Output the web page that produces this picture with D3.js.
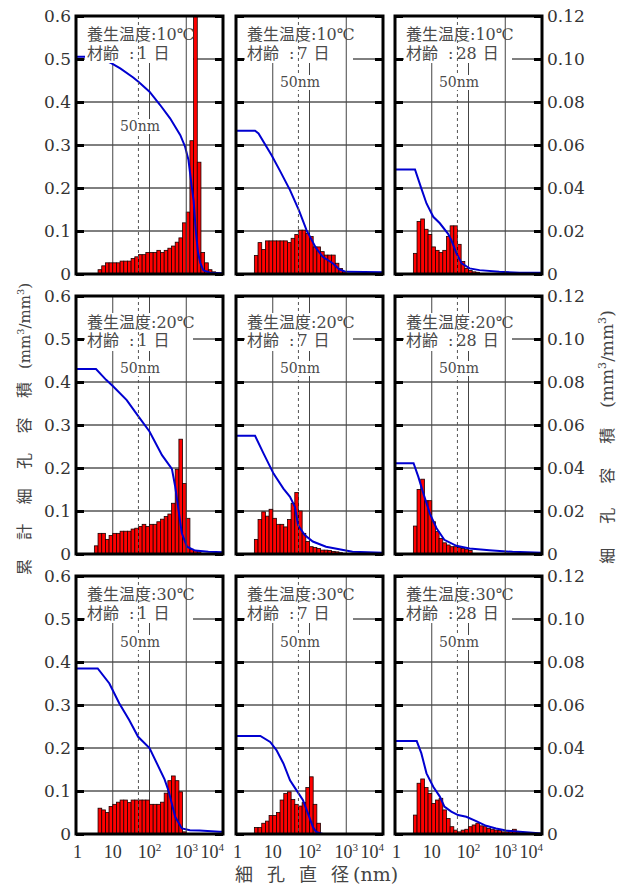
<!DOCTYPE html>
<html lang="ja">
<head>
<meta charset="utf-8">
<title>細孔径分布</title>
<script src="https://d3js.org/d3.v7.min.js"></script>
<style>
  body { margin: 0; background: #fff; }
  svg { display: block; }
</style>
</head>
<body>
<svg id="chart" width="625" height="888"></svg>
<script>
// ---- data ----
const temps = ["10℃", "20℃", "30℃"];   // rows
const ages = ["1", "7", "28"];           // columns, 材齢 (日)
const xTicks = [1, 10, 100, 1000, 10000];
const xTickExp = [null, null, 2, 3, 4];
const leftTicks = [0, 0.1, 0.2, 0.3, 0.4, 0.5, 0.6];
const rightTicks = [0, 0.02, 0.04, 0.06, 0.08, 0.10, 0.12];
const binWidthLog = 0.1;   // bars are 1/10 decade wide

// log10 of the lower edge of the first bar
const firstBinLog = [[0.6, 0.5, 0.5], [0.5, 0.5, 0.5], [0.6, 0.5, 0.5]];

// pore volume per bin (right axis, mm3/mm3)
const bars10d1 = [0.002, 0.0038, 0.0052, 0.0052, 0.0052, 0.0052, 0.006, 0.006, 0.006, 0.0072, 0.008, 0.009, 0.009, 0.010, 0.010, 0.010, 0.011, 0.010, 0.011, 0.012, 0.013, 0.0148, 0.0168, 0.0238, 0.0288, 0.062, 0.13, 0.052, 0.010, 0.0052, 0.002, 0.001];
const bars10d7 = [0.0086, 0.0146, 0.0114, 0.0154, 0.0154, 0.0154, 0.0154, 0.0154, 0.0154, 0.0146, 0.0166, 0.0184, 0.0204, 0.0204, 0.0188, 0.0174, 0.0126, 0.0126, 0.0104, 0.0088, 0.0088, 0.0088, 0.005, 0.0026, 0.001];
const bars10d28 = [0.0096, 0.0244, 0.0256, 0.0208, 0.0184, 0.0126, 0.011, 0.010, 0.011, 0.0174, 0.0224, 0.0224, 0.0138, 0.0058, 0.0026, 0.0016, 0.001, 0.0008];
const bars20d1 = [0.0038, 0.0096, 0.0096, 0.0068, 0.0086, 0.0096, 0.0096, 0.0106, 0.0106, 0.0106, 0.0116, 0.012, 0.0128, 0.0138, 0.0128, 0.0138, 0.0138, 0.015, 0.0162, 0.0174, 0.0186, 0.0236, 0.0394, 0.0534, 0.0328, 0.0166, 0.0022, 0.0016, 0.001];
const bars20d7 = [0.0068, 0.016, 0.0196, 0.0176, 0.0208, 0.0166, 0.0138, 0.0138, 0.0126, 0.016, 0.0236, 0.0286, 0.020, 0.0096, 0.0058, 0.0034, 0.003, 0.0026, 0.0018, 0.0018, 0.0016, 0.0012, 0.001, 0.0006];
const bars20d28 = [0.013, 0.030, 0.0348, 0.0248, 0.0248, 0.015, 0.0104, 0.0072, 0.0052, 0.0042, 0.0034, 0.0034, 0.003, 0.0026, 0.0022, 0.0016];
const bars30d1 = [0.012, 0.0112, 0.010, 0.0128, 0.0138, 0.0148, 0.0158, 0.0158, 0.0146, 0.0158, 0.0158, 0.0158, 0.0158, 0.0158, 0.0138, 0.0138, 0.0138, 0.0148, 0.019, 0.0248, 0.027, 0.0248, 0.0196, 0.001];
const bars30d7 = [0.003, 0.003, 0.005, 0.006, 0.0086, 0.0086, 0.010, 0.0158, 0.0188, 0.0196, 0.016, 0.0138, 0.013, 0.0146, 0.0216, 0.0266, 0.0138, 0.005];
const bars30d28 = [0.0088, 0.0236, 0.0256, 0.0216, 0.0188, 0.0142, 0.0158, 0.0166, 0.0112, 0.0072, 0.0034, 0.0018, 0.001, 0.0018, 0.0022, 0.0034, 0.0042, 0.005, 0.0038, 0.0034, 0.0026, 0.0022, 0.0018, 0.0016, 0.001, 0.001, 0.0016, 0.0022, 0.001];

// cumulative pore volume (left axis): [diameter nm, mm3/mm3]
const cum10d1 = [[1,0.505],[4,0.505],[9.3,0.49],[16,0.478],[36,0.457],[50,0.447],[100,0.424],[195,0.393],[363,0.362],[690,0.323],[930,0.296],[1150,0.265],[1410,0.203],[1590,0.17],[1820,0.1],[2090,0.05],[2400,0.026],[2950,0.008],[4470,0.003],[10000,0.0015]];
const cum10d7 = [[1,0.333],[3.3,0.333],[4.1,0.327],[9.3,0.276],[15.5,0.241],[29.5,0.195],[51,0.149],[83,0.102],[151,0.06],[229,0.04],[427,0.025],[646,0.011],[977,0.005],[10000,0.004]];
const cum10d28 = [[1,0.243],[3.5,0.243],[5.2,0.199],[7.2,0.164],[11,0.133],[16.6,0.118],[27.5,0.094],[34,0.079],[47,0.048],[65,0.025],[107,0.013],[200,0.009],[690,0.005],[2450,0.003],[10000,0.003]];
const cum20d1 = [[1,0.43],[3.5,0.43],[6.6,0.405],[10.5,0.389],[24,0.358],[51,0.319],[100,0.285],[219,0.23],[407,0.198],[500,0.157],[617,0.102],[759,0.048],[1050,0.017],[1740,0.008],[4000,0.005],[10000,0.004]];
const cum20d7 = [[1,0.275],[3.3,0.275],[5.6,0.234],[10.5,0.187],[19.5,0.152],[29.5,0.133],[40,0.11],[49,0.067],[74,0.044],[123,0.029],[282,0.017],[646,0.011],[1480,0.005],[10000,0.003]];
const cum20d28 = [[1,0.211],[3.2,0.211],[4.3,0.18],[5.9,0.141],[8.9,0.094],[13.5,0.06],[22,0.033],[47,0.019],[107,0.013],[370,0.009],[1580,0.005],[10000,0.003]];
const cum30d1 = [[1,0.385],[3.9,0.385],[8.1,0.35],[15,0.304],[28,0.265],[49,0.226],[66,0.215],[100,0.2],[257,0.127],[331,0.1],[500,0.04],[760,0.013],[1260,0.009],[2290,0.008],[8000,0.005],[10000,0.005]];
const cum30d7 = [[1,0.228],[4.6,0.228],[8.5,0.214],[12.6,0.195],[19.5,0.164],[29.5,0.125],[44,0.102],[66,0.079],[91,0.048],[123,0.017],[151,0.005],[229,0],[10000,0]];
const cum30d28 = [[1,0.216],[3.9,0.216],[5.2,0.188],[7.2,0.141],[11,0.11],[16.6,0.087],[22,0.064],[34,0.052],[52,0.044],[87,0.04],[162,0.03],[302,0.019],[562,0.013],[1050,0.008],[2450,0.005],[10000,0.001]];

const barSets = [[bars10d1, bars10d7, bars10d28], [bars20d1, bars20d7, bars20d28], [bars30d1, bars30d7, bars30d28]];
const cumSets = [[cum10d1, cum10d7, cum10d28], [cum20d1, cum20d7, cum20d28], [cum30d1, cum30d7, cum30d28]];

// ---- layout ----
const W = 147, H = 258;
const colX = [76, 236, 395];
const rowY = [16, 296, 576];
const boxY = [[0, 47], [17, 55], [0, 47]];      // white label box, relative to panel top
const textY = [[24, 43], [32, 50], [24, 43]];   // baselines of the two label lines
const nmLabelY = [[115, 71, 71], [77, 77, 77], [71, 71, 71]];
const serif = '"DejaVu Serif", "Noto Sans CJK JP", serif';
const narrowSerif = '"Liberation Serif", serif';
const cjk = '"Noto Sans CJK JP", sans-serif';

const svg = d3.select("#chart");
const fmtL = d => d === 0 ? "0" : d3.format(".1f")(d);
const fmtR = d => d === 0 ? "0" : d3.format(".2f")(d);

barSets.forEach((row, r) => row.forEach((bars, c) => {
  const x0 = colX[c], y0 = rowY[r];
  const x = d3.scaleLog().domain([1, 1e4]).range([x0, x0 + W]);
  const yL = d3.scaleLinear().domain([0, 0.6]).range([y0 + H, y0]);
  const yR = d3.scaleLinear().domain([0, 0.12]).range([y0 + H, y0]);
  const g = svg.append("g");
  const clipId = `clip-${r}-${c}`;
  g.append("clipPath").attr("id", clipId).append("rect")
    .attr("x", x0).attr("y", y0).attr("width", W).attr("height", H);

  // grid
  g.selectAll(".hg").data(leftTicks.slice(1, -1)).join("line")
    .attr("x1", x0).attr("x2", x0 + W)
    .attr("y1", d => yL(d)).attr("y2", d => yL(d))
    .attr("stroke", "#000").attr("stroke-width", 1);
  g.selectAll(".vg").data([10, 100]).join("line")
    .attr("x1", d => x(d)).attr("x2", d => x(d))
    .attr("y1", y0).attr("y2", y0 + H)
    .attr("stroke", "#444").attr("stroke-width", 1);

  // bars + cumulative line
  const pg = g.append("g").attr("clip-path", `url(#${clipId})`);
  const lo = firstBinLog[r][c];
  pg.selectAll("rect").data(bars).join("rect")
    .attr("x", (d, i) => x(Math.pow(10, lo + i * binWidthLog)))
    .attr("width", (d, i) => x(Math.pow(10, lo + (i + 1) * binWidthLog)) - x(Math.pow(10, lo + i * binWidthLog)))
    .attr("y", d => yR(d))
    .attr("height", d => yR(0) - yR(d))
    .attr("fill", "#ff0000").attr("stroke", "#1a0000").attr("stroke-width", 0.8);
  pg.append("path").datum(cumSets[r][c])
    .attr("d", d3.line().x(d => x(d[0])).y(d => yL(d[1])))
    .attr("fill", "none").attr("stroke", "#0000d0").attr("stroke-width", 2);

  // label box
  g.append("rect").attr("x", x0 + 9).attr("y", y0 + boxY[r][0])
    .attr("width", 108).attr("height", boxY[r][1] - boxY[r][0]).attr("fill", "#fff");
  const t1 = g.append("text").attr("x", x0 + 11).attr("y", y0 + textY[r][0])
    .attr("font-family", serif).attr("font-size", 16).attr("fill", "#4a4a4a");
  t1.append("tspan").attr("font-family", cjk).text("養生温度");
  t1.append("tspan").text(":" + temps[r]);
  const t2 = g.append("text").attr("x", x0 + 11).attr("y", y0 + textY[r][1])
    .attr("font-family", serif).attr("font-size", 16).attr("fill", "#4a4a4a");
  t2.append("tspan").attr("font-family", cjk).text("材齢");
  t2.append("tspan").attr("dx", 10).text(":");
  t2.append("tspan").attr("dx", 3).text(ages[c]);
  t2.append("tspan").attr("dx", 6).attr("font-family", cjk).text("日");

  // 1000 nm line sits above the box
  g.append("line").attr("x1", x(1000)).attr("x2", x(1000))
    .attr("y1", y0).attr("y2", y0 + H).attr("stroke", "#444").attr("stroke-width", 1);

  // 50 nm marker
  g.append("line").attr("x1", x(50)).attr("x2", x(50))
    .attr("y1", y0).attr("y2", y0 + H)
    .attr("stroke", "#555").attr("stroke-width", 1).attr("stroke-dasharray", "3,3");
  const ly = y0 + nmLabelY[r][c];
  g.append("rect").attr("x", x(50) - 19).attr("y", ly - 12).attr("width", 41).attr("height", 15).attr("fill", "#fff");
  g.append("text").attr("x", x(50) + 1.5).attr("y", ly)
    .attr("text-anchor", "middle").attr("font-family", serif).attr("font-size", 14)
    .attr("fill", "#4a4a4a").text("50nm");

  // axes (inner ticks)
  const aL = g.append("g").attr("transform", `translate(${x0},0)`)
    .call(d3.axisLeft(yL).tickValues(leftTicks).tickSizeInner(-8).tickSizeOuter(0).tickPadding(5)
      .tickFormat(c === 0 ? fmtL : () => ""));
  const aR = g.append("g").attr("transform", `translate(${x0 + W},0)`)
    .call(d3.axisRight(yR).tickValues(rightTicks).tickSizeInner(-8).tickSizeOuter(0).tickPadding(5)
      .tickFormat(c === 2 ? fmtR : () => ""));
  [aL, aR].forEach(a => {
    a.select(".domain").remove();
    a.selectAll(".tick line").attr("stroke", "#000").attr("stroke-width", 3);
    a.selectAll(".tick text").attr("font-family", serif).attr("font-size", 17).attr("fill", "#333");
  });
  if (c !== 0) aL.selectAll(".tick text").remove();
  if (c !== 2) aR.selectAll(".tick text").remove();

  // x tick labels (bottom row only)
  if (r === 2) {
    xTicks.forEach((v, i) => {
      const anchor = i === 0 ? "start" : (i === xTicks.length - 1 ? "end" : "middle");
      const px = i === 0 ? x(v) - 3 : (i === xTicks.length - 1 ? x(v) + 1 : x(v));
      const t = g.append("text").attr("x", px).attr("y", y0 + H + 24)
        .attr("text-anchor", anchor).attr("font-family", narrowSerif).attr("font-size", 18).attr("fill", "#333");
      if (xTickExp[i] === null) t.text(String(v));
      else {
        t.append("tspan").text("10");
        t.append("tspan").attr("font-size", 11).attr("dy", -7).text(xTickExp[i]);
      }
    });
  }

  // frame
  g.append("rect").attr("x", x0).attr("y", y0).attr("width", W).attr("height", H)
    .attr("fill", "none").attr("stroke", "#000").attr("stroke-width", 3);
}));

// axis titles
const titleFill = "#444";
function unitParts(t, size, gap) {
  t.append("tspan").attr("dx", gap).attr("font-family", serif).attr("font-size", size).text("(mm");
  t.append("tspan").attr("font-family", serif).attr("font-size", size * 0.65).attr("dy", -size * 0.4).text("3");
  t.append("tspan").attr("font-family", serif).attr("font-size", size).attr("dy", size * 0.4).text("/mm");
  t.append("tspan").attr("font-family", serif).attr("font-size", size * 0.65).attr("dy", -size * 0.4).text("3");
  t.append("tspan").attr("font-family", serif).attr("font-size", size).attr("dy", size * 0.4).text(")");
}

const tl = svg.append("text").attr("transform", "translate(30,429) rotate(-90)")
  .attr("text-anchor", "middle").attr("fill", titleFill).attr("font-family", cjk).attr("font-size", 16);
tl.append("tspan").attr("letter-spacing", 19.4).text("累計細孔容");
tl.append("tspan").text("積");
unitParts(tl, 15, 13);

const tr = svg.append("text").attr("transform", "translate(613,437) rotate(-90)")
  .attr("text-anchor", "middle").attr("fill", titleFill).attr("font-family", cjk).attr("font-size", 16);
tr.append("tspan").attr("letter-spacing", 24).text("細孔容");
tr.append("tspan").text("積");
unitParts(tr, 17, 20);

const tx = svg.append("text").attr("x", 235).attr("y", 881)
  .attr("fill", titleFill).attr("font-family", cjk).attr("font-size", 18);
tx.append("tspan").attr("letter-spacing", 14).text("細孔直");
tx.append("tspan").text("径");
tx.append("tspan").attr("dx", 4).attr("font-family", serif).attr("font-size", 19).text("(nm)");
</script>
</body>
</html>
